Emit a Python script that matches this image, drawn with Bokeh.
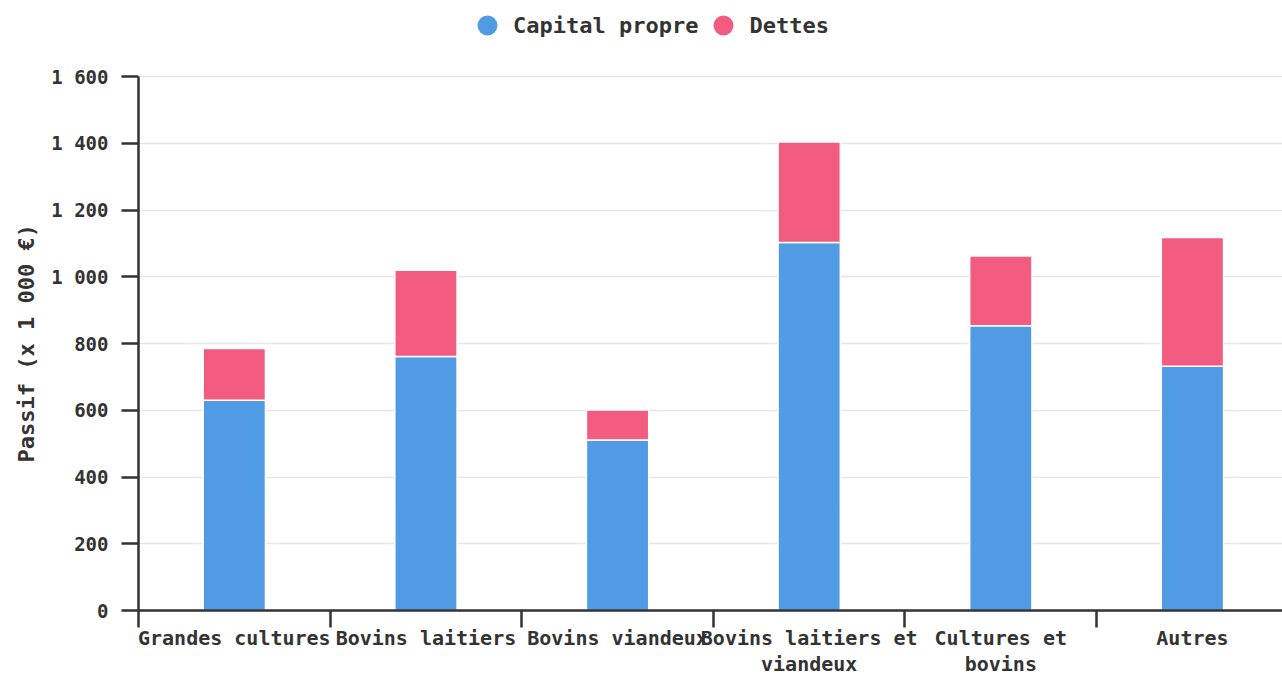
from bokeh.plotting import figure
from bokeh.models import (Range1d, FixedTicker, Legend, LegendItem, ColumnDataSource, Title)
from bokeh.embed import file_html
from bokeh.resources import INLINE

categories = ["Grandes cultures", "Bovins laitiers", "Bovins viandeux",
              "Bovins laitiers et\nviandeux", "Cultures et\nbovins", "Autres"]
capital_propre = [630, 761, 511, 1103, 853, 732]
dettes = [155, 259, 90, 301, 209, 386]
y_ticks = [0, 200, 400, 600, 800, 1000, 1200, 1400, 1600]
y_tick_labels = ["0", "200", "400", "600", "800", "1 000", "1 200", "1 400", "1 600"]

BLUE = "#509be3"
PINK = "#f15c80"
TXT = "#333333"
FONT = "DejaVu Sans Mono"

xpos = [i + 0.5 for i in range(len(categories))]
src = ColumnDataSource(dict(x=xpos, capital=capital_propre, dettes=dettes))

W, H = 1282, 678
p = figure(width=W, height=H, output_backend="svg", toolbar_location=None,
           x_range=Range1d(0, 5.97), y_range=Range1d(0, 1828),
           min_border_left=138, min_border_right=0, min_border_bottom=0, min_border_top=0)
p.outline_line_color = None
p.background_fill_color = "white"

rs = p.vbar_stack(["capital", "dettes"], x="x", width=0.325, source=src,
                  color=[BLUE, PINK], line_color="white", line_width=1.5)

# legend proxies (circles): renderers hidden from the plot, shown only in the legend
l1 = p.scatter(x="x", y="capital", source=src, size=20, marker="circle",
               fill_color=BLUE, line_color=None, visible=False)
l2 = p.scatter(x="x", y="capital", source=src, size=20, marker="circle",
               fill_color=PINK, line_color=None, visible=False)
legend = Legend(items=[LegendItem(label="Capital propre", renderers=[l1]),
                       LegendItem(label="Dettes", renderers=[l2])],
                orientation="horizontal", location=(324, 560),
                glyph_width=50, glyph_height=50, label_standoff=1, spacing=0,
                padding=0, margin=0, border_line_color=None,
                label_text_font=FONT, label_text_font_style="bold",
                label_text_font_size="22px", label_text_color=TXT,
                background_fill_alpha=0, inactive_fill_alpha=0)
p.add_layout(legend, "center")

# y axis
p.yaxis.ticker = FixedTicker(ticks=y_ticks)
p.yaxis.bounds = (0, 1600)
p.yaxis.major_label_overrides = {t: l for t, l in zip(y_ticks, y_tick_labels)}
p.yaxis.major_label_text_font = FONT
p.yaxis.major_label_text_font_style = "bold"
p.yaxis.major_label_text_font_size = "19px"
p.yaxis.major_label_text_color = TXT
p.yaxis.major_label_standoff = 13
p.yaxis.major_tick_out = 17
p.yaxis.major_tick_in = 0
p.yaxis.minor_tick_out = 0
p.yaxis.minor_tick_in = 0
p.yaxis.axis_line_width = 2.5
p.yaxis.axis_line_color = TXT
p.yaxis.major_tick_line_width = 2.5
p.yaxis.major_tick_line_color = TXT

ytitle = Title(text="Passif (x 1 000 €)", align="left", offset=148, standoff=20,
               text_font=FONT, text_font_style="bold", text_font_size="22px",
               text_color=TXT)
p.add_layout(ytitle, "left")

# x axis: labels at centers, tick marks at boundaries
p.xaxis.ticker = FixedTicker(ticks=xpos, minor_ticks=list(range(len(categories) + 1)))
p.xaxis.major_label_overrides = {x: c for x, c in zip(xpos, categories)}
p.xaxis.major_label_text_font = FONT
p.xaxis.major_label_text_font_style = "bold"
p.xaxis.major_label_text_font_size = "20px"
p.xaxis.major_label_text_color = TXT
p.xaxis.major_label_text_line_height = 1.1
p.xaxis.major_label_standoff = 15
p.xaxis.major_tick_out = 0
p.xaxis.major_tick_in = 0
p.xaxis.minor_tick_out = 0
p.xaxis.minor_tick_in = -17
p.xaxis.minor_tick_line_width = 2.5
p.xaxis.minor_tick_line_color = TXT
p.xaxis.axis_line_width = 2.5
p.xaxis.axis_line_color = TXT

p.xgrid.grid_line_color = None
p.ygrid.ticker = FixedTicker(ticks=y_ticks)
p.ygrid.grid_line_color = "#e6e6e6"
p.ygrid.grid_line_width = 1.5

open("out.html", "w").write(file_html(p, INLINE))
